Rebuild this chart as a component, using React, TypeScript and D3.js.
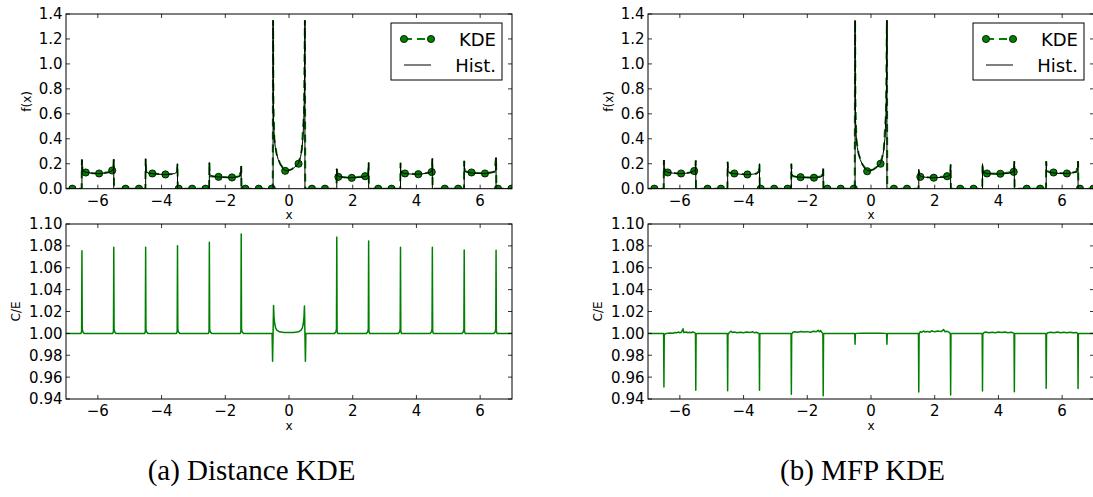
import React from "react";
import * as d3 from "d3";

// ---------- DATA ----------
const xTicks = [-6, -4, -2, 0, 2, 4, 6];
const fTicks = [0, 0.2, 0.4, 0.6, 0.8, 1.0, 1.2, 1.4];
const ratioTicks = [0.94, 0.96, 0.98, 1.0, 1.02, 1.04, 1.06, 1.08, 1.1];
const captions = ["(a) Distance KDE", "(b) MFP KDE"];
const legendLabels = ["KDE", "Hist."];

// x positions of the KDE markers
const markerX = [
  -6.8, -6.38, -5.96, -5.55, -5.13, -4.71, -4.29, -3.88, -3.46, -3.04, -2.62, -2.21, -1.79, -1.37,
  -0.95, -0.54, -0.12, 0.3, 0.72, 1.13, 1.55, 1.97, 2.39, 2.8, 3.22, 3.64, 4.06, 4.48, 4.89, 5.31,
  5.73, 6.15, 6.56, 6.98,
];
const kdeMarkDist = [
  0, 0.13, 0.122, 0.146, 0, 0, 0.122, 0.114, 0, 0, 0, 0.095, 0.09, 0, 0, 0, 0.143, 0.2, 0, 0, 0.095,
  0.087, 0.1, 0, 0, 0.122, 0.116, 0.134, 0, 0, 0.13, 0.122, 0, 0,
];
const kdeMarkMfp = [
  0, 0.13, 0.122, 0.142, 0, 0, 0.122, 0.114, 0, 0, 0, 0.092, 0.088, 0, 0, 0, 0.14, 0.2, 0, 0, 0.095,
  0.088, 0.1, 0, 0, 0.122, 0.12, 0.135, 0, 0, 0.13, 0.122, 0, 0,
];

// histogram (black) — Distance KDE panel
const histDist: [number, number][] = [
  [-7, 0], [-6.5, 0], [-6.5, 0.234], [-6.49, 0.15], [-6.44, 0.138], [-6.35, 0.13], [-6.2, 0.124], [-6.0, 0.121],
  [-5.8, 0.124], [-5.66, 0.13], [-5.57, 0.142], [-5.51, 0.158], [-5.5, 0.236], [-5.5, 0],
  [-4.5, 0], [-4.5, 0.24], [-4.49, 0.136], [-4.42, 0.126], [-4.3, 0.121], [-4.1, 0.116], [-3.9, 0.114],
  [-3.72, 0.116], [-3.6, 0.121], [-3.53, 0.13], [-3.51, 0.142], [-3.5, 0.2], [-3.5, 0],
  [-2.5, 0], [-2.5, 0.21], [-2.49, 0.115], [-2.42, 0.102], [-2.3, 0.096], [-2.1, 0.092], [-1.9, 0.09],
  [-1.7, 0.091], [-1.59, 0.096], [-1.52, 0.106], [-1.5, 0.18], [-1.5, 0],
  [-0.5, 0], [-0.5, 1.35], [-0.495, 0.8], [-0.485, 0.55], [-0.46, 0.4], [-0.43, 0.33], [-0.39, 0.28],
  [-0.34, 0.235], [-0.28, 0.2], [-0.2, 0.166], [-0.125, 0.146], [-0.05, 0.143], [0.08, 0.154], [0.18, 0.172],
  [0.29, 0.2], [0.36, 0.25], [0.4, 0.31], [0.44, 0.41], [0.47, 0.6], [0.49, 0.9], [0.5, 1.35], [0.5, 0],
  [1.5, 0], [1.5, 0.16], [1.51, 0.11], [1.58, 0.097], [1.7, 0.092], [1.9, 0.088], [2.1, 0.089], [2.3, 0.093],
  [2.42, 0.1], [2.49, 0.112], [2.5, 0.21], [2.5, 0],
  [3.5, 0], [3.5, 0.207], [3.51, 0.135], [3.58, 0.125], [3.7, 0.12], [3.9, 0.116], [4.1, 0.117], [4.3, 0.122],
  [4.42, 0.13], [4.49, 0.142], [4.5, 0.242], [4.5, 0],
  [5.5, 0], [5.5, 0.223], [5.51, 0.142], [5.58, 0.133], [5.7, 0.127], [5.9, 0.122], [6.1, 0.122], [6.3, 0.126],
  [6.42, 0.133], [6.49, 0.146], [6.5, 0.25], [6.5, 0], [7, 0],
];

// KDE curve (green dashed) — Distance KDE panel
const kdeDist: [number, number][] = [
  [-7, 0], [-6.51, 0], [-6.5, 0.234], [-6.48, 0.14], [-6.38, 0.13], [-5.96, 0.12], [-5.6, 0.135], [-5.52, 0.16],
  [-5.5, 0.236], [-5.49, 0],
  [-4.51, 0], [-4.5, 0.24], [-4.48, 0.13], [-4.29, 0.122], [-3.88, 0.114], [-3.6, 0.12], [-3.52, 0.14], [-3.5, 0.2], [-3.49, 0],
  [-2.51, 0], [-2.5, 0.21], [-2.48, 0.1], [-2.21, 0.095], [-1.79, 0.09], [-1.55, 0.1], [-1.5, 0.18], [-1.49, 0],
  [-0.51, 0], [-0.5, 1.35], [-0.49, 0.7], [-0.46, 0.4], [-0.39, 0.28], [-0.28, 0.2], [-0.12, 0.143], [0.08, 0.155],
  [0.3, 0.2], [0.4, 0.31], [0.47, 0.6], [0.5, 1.35], [0.51, 0],
  [1.49, 0], [1.5, 0.16], [1.52, 0.1], [1.55, 0.095], [1.97, 0.087], [2.39, 0.1], [2.48, 0.12], [2.5, 0.21], [2.51, 0],
  [3.49, 0], [3.5, 0.207], [3.52, 0.13], [3.64, 0.122], [4.06, 0.116], [4.48, 0.134], [4.5, 0.242], [4.51, 0],
  [5.49, 0], [5.5, 0.223], [5.52, 0.14], [5.73, 0.13], [6.15, 0.122], [6.45, 0.135], [6.5, 0.25], [6.51, 0], [7, 0],
];

// histogram (black) — MFP KDE panel
const histMfp: [number, number][] = [
  [-7, 0], [-6.5, 0], [-6.5, 0.229], [-6.49, 0.15], [-6.44, 0.138], [-6.35, 0.13], [-6.2, 0.124], [-6.0, 0.121],
  [-5.8, 0.124], [-5.66, 0.13], [-5.57, 0.14], [-5.51, 0.155], [-5.5, 0.22], [-5.5, 0],
  [-4.5, 0], [-4.5, 0.215], [-4.49, 0.136], [-4.42, 0.126], [-4.3, 0.121], [-4.1, 0.116], [-3.9, 0.114],
  [-3.72, 0.116], [-3.6, 0.121], [-3.53, 0.13], [-3.51, 0.14], [-3.5, 0.2], [-3.5, 0],
  [-2.5, 0], [-2.5, 0.2], [-2.49, 0.112], [-2.42, 0.1], [-2.3, 0.094], [-2.1, 0.09], [-1.9, 0.088],
  [-1.7, 0.089], [-1.59, 0.094], [-1.52, 0.104], [-1.5, 0.16], [-1.5, 0],
  [-0.5, 0], [-0.5, 1.35], [-0.495, 0.8], [-0.485, 0.55], [-0.46, 0.4], [-0.43, 0.33], [-0.39, 0.28],
  [-0.34, 0.235], [-0.28, 0.2], [-0.2, 0.166], [-0.125, 0.146], [-0.05, 0.143], [0.08, 0.154], [0.18, 0.172],
  [0.29, 0.2], [0.36, 0.25], [0.4, 0.31], [0.44, 0.41], [0.47, 0.6], [0.49, 0.9], [0.5, 1.35], [0.5, 0],
  [1.5, 0], [1.5, 0.156], [1.51, 0.11], [1.58, 0.097], [1.7, 0.092], [1.9, 0.088], [2.1, 0.089], [2.3, 0.093],
  [2.42, 0.1], [2.49, 0.112], [2.5, 0.194], [2.5, 0],
  [3.5, 0], [3.5, 0.2], [3.51, 0.135], [3.58, 0.125], [3.7, 0.12], [3.9, 0.117], [4.1, 0.118], [4.3, 0.123],
  [4.42, 0.13], [4.49, 0.142], [4.5, 0.22], [4.5, 0],
  [5.5, 0], [5.5, 0.22], [5.51, 0.142], [5.58, 0.133], [5.7, 0.127], [5.9, 0.122], [6.1, 0.122], [6.3, 0.126],
  [6.42, 0.133], [6.49, 0.146], [6.5, 0.22], [6.5, 0], [7, 0],
];

// KDE curve (green dashed) — MFP KDE panel
const kdeMfp: [number, number][] = [
  [-7, 0], [-6.51, 0], [-6.5, 0.229], [-6.48, 0.14], [-6.38, 0.13], [-5.96, 0.12], [-5.6, 0.133], [-5.52, 0.155],
  [-5.5, 0.23], [-5.49, 0],
  [-4.51, 0], [-4.5, 0.215], [-4.48, 0.13], [-4.29, 0.122], [-3.88, 0.114], [-3.6, 0.12], [-3.52, 0.14], [-3.5, 0.2], [-3.49, 0],
  [-2.51, 0], [-2.5, 0.2], [-2.48, 0.1], [-2.21, 0.092], [-1.79, 0.088], [-1.55, 0.1], [-1.5, 0.16], [-1.49, 0],
  [-0.51, 0], [-0.5, 1.35], [-0.49, 0.7], [-0.46, 0.4], [-0.39, 0.28], [-0.28, 0.2], [-0.12, 0.14], [0.08, 0.155],
  [0.3, 0.2], [0.4, 0.31], [0.47, 0.6], [0.5, 1.35], [0.51, 0],
  [1.49, 0], [1.5, 0.156], [1.52, 0.1], [1.55, 0.095], [1.97, 0.088], [2.39, 0.1], [2.48, 0.12], [2.5, 0.194], [2.51, 0],
  [3.49, 0], [3.5, 0.2], [3.52, 0.13], [3.64, 0.122], [4.06, 0.12], [4.48, 0.135], [4.5, 0.22], [4.51, 0],
  [5.49, 0], [5.5, 0.22], [5.52, 0.14], [5.73, 0.13], [6.15, 0.122], [6.45, 0.135], [6.5, 0.22], [6.51, 0], [7, 0],
];

// C/E ratio — Distance KDE panel
const ratioDist: [number, number][] = [
  [-7, 1], [-6.53, 1], [-6.51, 1.002], [-6.5, 1.0756], [-6.49, 1.004], [-6.47, 1.0012], [-6.43, 1],
  [-5.53, 1], [-5.51, 1.002], [-5.5, 1.0787], [-5.49, 1.004], [-5.47, 1.0012], [-5.43, 1],
  [-4.53, 1], [-4.51, 1.002], [-4.5, 1.0787], [-4.49, 1.004], [-4.47, 1.0012], [-4.43, 1],
  [-3.53, 1], [-3.51, 1.002], [-3.5, 1.0802], [-3.49, 1.004], [-3.47, 1.0012], [-3.43, 1],
  [-2.53, 1], [-2.51, 1.002], [-2.5, 1.0833], [-2.49, 1.004], [-2.47, 1.0012], [-2.43, 1],
  [-1.53, 1], [-1.51, 1.002], [-1.5, 1.0909], [-1.49, 1.004], [-1.47, 1.0012], [-1.43, 1],
  [-0.53, 1], [-0.515, 0.9745], [-0.5, 1], [-0.485, 1.0255], [-0.47, 1.015], [-0.45, 1.009], [-0.42, 1.005],
  [-0.38, 1.003], [-0.3, 1.0014], [-0.15, 1.0008], [0, 1.0007], [0.15, 1.0008], [0.3, 1.0014], [0.38, 1.003],
  [0.42, 1.005], [0.45, 1.009], [0.47, 1.015], [0.485, 1.025], [0.5, 1], [0.515, 0.9745], [0.53, 1],
  [1.43, 1], [1.47, 1.0012], [1.49, 1.004], [1.5, 1.088], [1.51, 1.002], [1.53, 1],
  [2.43, 1], [2.47, 1.0012], [2.49, 1.004], [2.5, 1.0844], [2.51, 1.002], [2.53, 1],
  [3.43, 1], [3.47, 1.0012], [3.49, 1.004], [3.5, 1.0787], [3.51, 1.002], [3.53, 1],
  [4.43, 1], [4.47, 1.0012], [4.49, 1.004], [4.5, 1.0787], [4.51, 1.002], [4.53, 1],
  [5.43, 1], [5.47, 1.0012], [5.49, 1.004], [5.5, 1.0762], [5.51, 1.002], [5.53, 1],
  [6.43, 1], [6.47, 1.0012], [6.49, 1.004], [6.5, 1.0759], [6.51, 1.002], [6.53, 1], [7, 1],
];

// C/E ratio — MFP KDE panel
const ratioMfp: [number, number][] = [
  [-7, 1], [-6.51, 1], [-6.5, 0.951], [-6.49, 0.9985], [-6.46, 0.9995], [-6.42, 1],
  [-6.3, 1.0004], [-6.22, 1.0002], [-6.15, 1.0008], [-6.1, 1.0005], [-6.05, 1.0012], [-6.0, 1.0006], [-5.95, 1.001],
  [-5.9, 1.0042], [-5.88, 1.0008], [-5.8, 1.0012], [-5.75, 1.0006], [-5.7, 1.001], [-5.64, 1.0005], [-5.6, 1.0014],
  [-5.55, 1.0008], [-5.51, 1], [-5.5, 0.948], [-5.49, 0.999], [-5.46, 1],
  [-4.51, 1], [-4.5, 0.9475], [-4.49, 0.9985], [-4.46, 1.0004], [-4.4, 1.002], [-4.35, 1.0008], [-4.3, 1.0012],
  [-4.2, 1.0006], [-4.1, 1.001], [-4.0, 1.0005], [-3.9, 1.0012], [-3.8, 1.0007], [-3.72, 1.0015], [-3.65, 1.0005],
  [-3.6, 1.001], [-3.55, 1.0004], [-3.51, 1], [-3.5, 0.948], [-3.49, 0.999], [-3.46, 1],
  [-2.51, 1], [-2.5, 0.9443], [-2.49, 0.999], [-2.46, 1.0008], [-2.4, 1.0015], [-2.3, 1.001], [-2.2, 1.0018],
  [-2.1, 1.0012], [-2.0, 1.0016], [-1.9, 1.001], [-1.8, 1.002], [-1.72, 1.0014], [-1.66, 1.0028], [-1.62, 1.0015],
  [-1.58, 1.0026], [-1.55, 1.001], [-1.51, 1], [-1.5, 0.943], [-1.49, 0.999], [-1.46, 1],
  [-0.51, 1], [-0.5, 0.99], [-0.49, 0.9995], [-0.45, 1], [-0.3, 1.0002], [0, 1.0002], [0.3, 1.0002], [0.45, 1],
  [0.49, 0.9995], [0.5, 0.99], [0.51, 1],
  [1.49, 1], [1.5, 0.9464], [1.51, 0.9995], [1.55, 1.0015], [1.6, 1.001], [1.65, 1.0022], [1.7, 1.0012],
  [1.78, 1.0018], [1.85, 1.001], [1.9, 1.0024], [2.0, 1.0014], [2.1, 1.0022], [2.2, 1.0016], [2.28, 1.0035],
  [2.32, 1.0015], [2.38, 1.002], [2.44, 1.0012], [2.49, 1], [2.5, 0.9437], [2.51, 0.9995], [2.55, 1],
  [3.49, 1], [3.5, 0.9473], [3.51, 0.9995], [3.55, 1.0008], [3.6, 1.0012], [3.7, 1.0006], [3.8, 1.001],
  [3.9, 1.0005], [4.0, 1.0012], [4.1, 1.0008], [4.2, 1.0013], [4.3, 1.0006], [4.4, 1.001], [4.46, 1.0005],
  [4.49, 1], [4.5, 0.9466], [4.51, 0.9995], [4.55, 1],
  [5.49, 1], [5.5, 0.9498], [5.51, 0.9995], [5.55, 1.0006], [5.65, 1.001], [5.75, 1.0006], [5.85, 1.0012],
  [5.95, 1.0005], [6.05, 1.001], [6.15, 1.0006], [6.25, 1.0011], [6.35, 1.0005], [6.45, 1.0008], [6.49, 1],
  [6.5, 0.9495], [6.51, 0.9995], [6.55, 1], [7, 1],
];

// ---------- LAYOUT ----------
const W = 1093;
const H = 497;
const PW = 446;
const TOP = { y0: 14, y1: 188.7 };
const BOT = { y0: 224, y1: 399 };
const GREEN = "#008000";
const FONT = "DejaVu Sans, Verdana, sans-serif";

const fmtX = (d: number) => (d < 0 ? "\u2212" + Math.abs(d) : String(d));

type PanelProps = {
  id: string;
  left: number;
  hist: [number, number][];
  kde: [number, number][];
  marks: number[];
  ratio: [number, number][];
  caption: string;
  captionX: number;
};

function Frame({
  x0, y0, y1, xs, ys, yTicks, yFmt, ylabel, ylabelDx, xlabelY, tickLabelY,
}: any) {
  const x1 = x0 + PW;
  return (
    <g>
      <rect x={x0} y={y0} width={PW} height={y1 - y0} fill="none" stroke="#000" strokeWidth={1} />
      {xTicks.map((t) => (
        <g key={"xt" + t}>
          <line x1={xs(t)} x2={xs(t)} y1={y1} y2={y1 - 4} stroke="#000" strokeWidth={0.8} />
          <line x1={xs(t)} x2={xs(t)} y1={y0} y2={y0 + 4} stroke="#000" strokeWidth={0.8} />
          <text x={xs(t)} y={tickLabelY} textAnchor="middle" fontSize={15} fontFamily={FONT} fill="#000">
            {fmtX(t)}
          </text>
        </g>
      ))}
      {yTicks.map((t: number) => (
        <g key={"yt" + t}>
          <line x1={x0} x2={x0 + 4} y1={ys(t)} y2={ys(t)} stroke="#000" strokeWidth={0.8} />
          <line x1={x1} x2={x1 - 4} y1={ys(t)} y2={ys(t)} stroke="#000" strokeWidth={0.8} />
          <text x={x0 - 3.5} y={ys(t)} dy="0.36em" textAnchor="end" fontSize={15} fontFamily={FONT} fill="#000">
            {yFmt(t)}
          </text>
        </g>
      ))}
      <text
        transform={`translate(${x0 + ylabelDx},${(y0 + y1) / 2}) rotate(-90)`}
        dy="0.35em"
        textAnchor="middle"
        fontSize={12}
        fontFamily={FONT}
        fill="#000"
      >
        {ylabel}
      </text>
      <text x={x0 + PW / 2} y={xlabelY} textAnchor="middle" fontSize={12} fontFamily={FONT} fill="#000">
        x
      </text>
    </g>
  );
}

function Panel({ id, left, hist, kde, marks, ratio, caption, captionX }: PanelProps) {
  const xs = d3.scaleLinear().domain([-7, 7]).range([left, left + PW]);
  const ysTop = d3.scaleLinear().domain([0, 1.4]).range([TOP.y1, TOP.y0]);
  const ysBot = d3.scaleLinear().domain([0.94, 1.1]).range([BOT.y1, BOT.y0]);
  const lineTop = d3
    .line<[number, number]>()
    .x((d) => xs(d[0]))
    .y((d) => ysTop(d[1]));
  const lineBot = d3
    .line<[number, number]>()
    .x((d) => xs(d[0]))
    .y((d) => ysBot(d[1]));

  const lgX = left + 325;
  const lgY = 23;
  return (
    <g>
      <defs>
        <clipPath id={id + "-ct"}>
          <rect x={left} y={TOP.y0} width={PW} height={TOP.y1 - TOP.y0} />
        </clipPath>
        <clipPath id={id + "-cb"}>
          <rect x={left} y={BOT.y0} width={PW} height={BOT.y1 - BOT.y0} />
        </clipPath>
      </defs>

      {/* top: KDE vs histogram */}
      <g clipPath={`url(#${id}-ct)`}>
        <path d={lineTop(kde) || ""} fill="none" stroke={GREEN} strokeWidth={2} strokeDasharray="8,5" />
        {markerX.map((x, i) => (
          <circle key={i} cx={xs(x)} cy={ysTop(marks[i])} r={3.6} fill={GREEN} stroke="#000" strokeWidth={0.8} />
        ))}
        <path d={lineTop(hist) || ""} fill="none" stroke="#000" strokeWidth={1} />
      </g>
      <Frame
        x0={left}
        y0={TOP.y0}
        y1={TOP.y1}
        xs={xs}
        ys={ysTop}
        yTicks={fTicks}
        yFmt={d3.format(".1f")}
        ylabel="f(x)"
        ylabelDx={-39}
        xlabelY={219}
        tickLabelY={206}
      />

      {/* legend */}
      <rect x={lgX} y={lgY} width={111} height={57} fill="#fff" stroke="#000" strokeWidth={1} />
      <line x1={lgX + 13} x2={lgX + 40} y1={lgY + 16} y2={lgY + 16} stroke={GREEN} strokeWidth={2} strokeDasharray="8,5" />
      <circle cx={lgX + 13} cy={lgY + 16} r={3.6} fill={GREEN} stroke="#000" strokeWidth={0.8} />
      <circle cx={lgX + 40} cy={lgY + 16} r={3.6} fill={GREEN} stroke="#000" strokeWidth={0.8} />
      <line x1={lgX + 13} x2={lgX + 40} y1={lgY + 42} y2={lgY + 42} stroke="#000" strokeWidth={1} />
      <text x={lgX + 105} y={lgY + 22.7} textAnchor="end" fontSize={18} fontFamily={FONT} fill="#000">
        {legendLabels[0]}
      </text>
      <text x={lgX + 105} y={lgY + 49} textAnchor="end" fontSize={18} fontFamily={FONT} fill="#000">
        {legendLabels[1]}
      </text>

      {/* bottom: C/E */}
      <g clipPath={`url(#${id}-cb)`}>
        <path d={lineBot(ratio) || ""} fill="none" stroke={GREEN} strokeWidth={1.5} strokeLinejoin="round" />
      </g>
      <Frame
        x0={left}
        y0={BOT.y0}
        y1={BOT.y1}
        xs={xs}
        ys={ysBot}
        yTicks={ratioTicks}
        yFmt={d3.format(".2f")}
        ylabel="C/E"
        ylabelDx={-50}
        xlabelY={430}
        tickLabelY={416}
      />

      <text
        x={captionX}
        y={480}
        textAnchor="middle"
        fontSize={29}
        fontFamily="Liberation Serif, Times New Roman, serif"
        fill="#000"
      >
        {caption}
      </text>
    </g>
  );
}

export default function App() {
  return (
    <svg
      width={W}
      height={H}
      viewBox={`0 0 ${W} ${H}`}
      style={{ position: "absolute", left: 0, top: 0, background: "#fff" }}
    >
      <rect x={0} y={0} width={W} height={H} fill="#fff" />
      <Panel
        id="pa"
        left={66}
        hist={histDist}
        kde={kdeDist}
        marks={kdeMarkDist}
        ratio={ratioDist}
        caption={captions[0]}
        captionX={251.5}
      />
      <Panel
        id="pb"
        left={648}
        hist={histMfp}
        kde={kdeMfp}
        marks={kdeMarkMfp}
        ratio={ratioMfp}
        caption={captions[1]}
        captionX={862.5}
      />
    </svg>
  );
}
